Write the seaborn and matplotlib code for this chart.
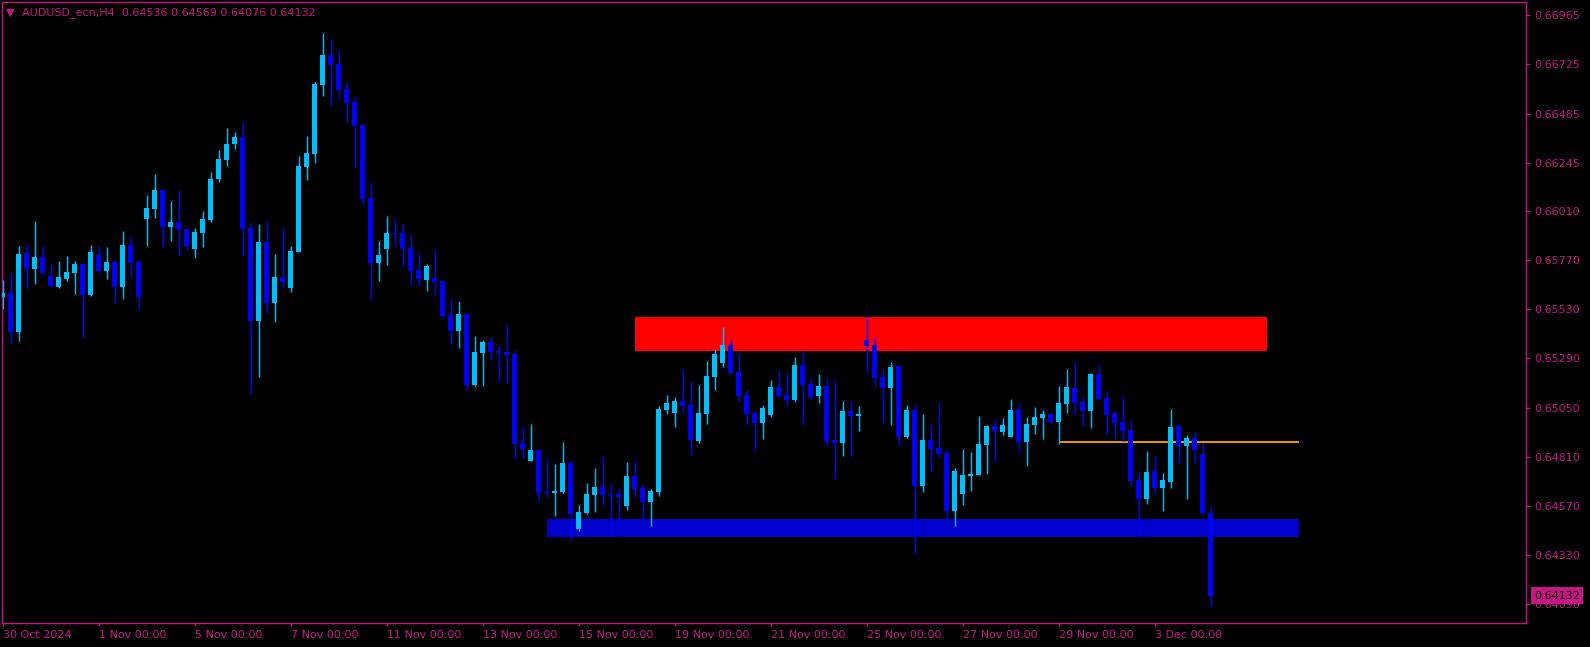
import matplotlib
matplotlib.use("Agg")
import matplotlib.pyplot as plt
import numpy as np
import seaborn as sns

# AUDUSD_ecn H4, 30 Oct 2024 -> 4 Dec 2024 (one value per bar)
opens = [
    0.65591, 0.65608, 0.65421, 0.65803, 0.65727, 0.65783, 0.65692, 0.65640, 0.65679, 0.65709,
    0.65751, 0.65600, 0.65795, 0.65717, 0.65761, 0.65639, 0.65844, 0.65761, 0.65971, 0.66019,
    0.66112, 0.65933, 0.65956, 0.65922, 0.65826, 0.65904, 0.65966, 0.66166, 0.66259, 0.66337,
    0.66371, 0.65927, 0.65474, 0.65858, 0.65562, 0.65688, 0.65635, 0.65811, 0.66226, 0.66290,
    0.66625, 0.66771, 0.66727, 0.66605, 0.66542, 0.66431, 0.66073, 0.65757, 0.65826, 0.65902,
    0.65902, 0.65829, 0.65722, 0.65674, 0.65683, 0.65668, 0.65504, 0.65426, 0.65509, 0.65160,
    0.65316, 0.65370, 0.65326, 0.65321, 0.65312, 0.64877, 0.64789, 0.64843, 0.64638, 0.64633,
    0.64638, 0.64779, 0.64457, 0.64535, 0.64623, 0.64662, 0.64628, 0.64628, 0.64571, 0.64716,
    0.64657, 0.64591, 0.64638, 0.65038, 0.65023, 0.65082, 0.65063, 0.64887, 0.65019, 0.65199,
    0.65268, 0.65355, 0.65224, 0.65111, 0.65023, 0.64975, 0.65014, 0.65150, 0.65111, 0.65087,
    0.65258, 0.65165, 0.65106, 0.65155, 0.64892, 0.64877, 0.65033, 0.65009, 0.65380, 0.65355,
    0.65199, 0.65146, 0.65253, 0.64906, 0.65038, 0.64667, 0.64892, 0.64853, 0.64828, 0.64545,
    0.64628, 0.64716, 0.64721, 0.64867, 0.64960, 0.64931, 0.64906, 0.65038, 0.64882, 0.64965,
    0.64999, 0.65019, 0.64980, 0.65067, 0.65146, 0.65077, 0.65033, 0.65214, 0.65097, 0.65023,
    0.64980, 0.64940, 0.64696, 0.64604, 0.64740, 0.64657, 0.64687, 0.64960, 0.64862, 0.64901,
    0.64823, 0.64536,
]
highs = [
    0.65673, 0.65705, 0.65839, 0.65849, 0.65961, 0.65842, 0.65751, 0.65766, 0.65790, 0.65766,
    0.65754, 0.65844, 0.65839, 0.65834, 0.65770, 0.65912, 0.65888, 0.65770, 0.66088, 0.66190,
    0.66120, 0.66059, 0.66112, 0.65927, 0.65927, 0.66010, 0.66200, 0.66308, 0.66415, 0.66395,
    0.66449, 0.65956, 0.65946, 0.65961, 0.65800, 0.65932, 0.65839, 0.66278, 0.66376, 0.66639,
    0.66879, 0.66849, 0.66801, 0.66639, 0.66571, 0.66436, 0.66151, 0.65863, 0.65985, 0.65971,
    0.65951, 0.65897, 0.65810, 0.65751, 0.65819, 0.65668, 0.65580, 0.65570, 0.65509, 0.65399,
    0.65380, 0.65394, 0.65355, 0.65458, 0.65331, 0.64955, 0.64970, 0.64843, 0.64799, 0.64775,
    0.64882, 0.64794, 0.64574, 0.64682, 0.64755, 0.64814, 0.64677, 0.64657, 0.64784, 0.64789,
    0.64677, 0.64652, 0.65058, 0.65111, 0.65102, 0.65238, 0.65180, 0.65160, 0.65277, 0.65336,
    0.65443, 0.65380, 0.65316, 0.65141, 0.65033, 0.65063, 0.65185, 0.65233, 0.65219, 0.65297,
    0.65321, 0.65199, 0.65214, 0.65194, 0.65185, 0.65082, 0.65082, 0.65058, 0.65497, 0.65394,
    0.65233, 0.65272, 0.65263, 0.65063, 0.65067, 0.65019, 0.64970, 0.65077, 0.64838, 0.64755,
    0.64848, 0.64833, 0.65009, 0.64965, 0.64994, 0.64999, 0.65092, 0.65067, 0.65004, 0.65053,
    0.65038, 0.65028, 0.65155, 0.65238, 0.65277, 0.65106, 0.65219, 0.65258, 0.65131, 0.65033,
    0.65106, 0.64989, 0.64731, 0.64838, 0.64814, 0.64731, 0.65043, 0.64970, 0.64916, 0.64936,
    0.64877, 0.64569,
]
lows = [
    0.65533, 0.65364, 0.65377, 0.65630, 0.65655, 0.65699, 0.65637, 0.65635, 0.65670, 0.65604,
    0.65391, 0.65595, 0.65707, 0.65678, 0.65556, 0.65580, 0.65683, 0.65531, 0.65839, 0.65975,
    0.65836, 0.65863, 0.65792, 0.65819, 0.65782, 0.65836, 0.65958, 0.66153, 0.66231, 0.66314,
    0.65792, 0.65118, 0.65201, 0.65509, 0.65469, 0.65635, 0.65616, 0.65811, 0.66163, 0.66246,
    0.66573, 0.66524, 0.66558, 0.66446, 0.66221, 0.66046, 0.65577, 0.65670, 0.65748, 0.65840,
    0.65738, 0.65650, 0.65650, 0.65621, 0.65601, 0.65489, 0.65362, 0.65343, 0.65137, 0.65155,
    0.65155, 0.65282, 0.65175, 0.65170, 0.64799, 0.64804, 0.64789, 0.64589, 0.64613, 0.64521,
    0.64633, 0.64403, 0.64447, 0.64530, 0.64540, 0.64569, 0.64428, 0.64501, 0.64550, 0.64613,
    0.64501, 0.64472, 0.64618, 0.65019, 0.64955, 0.65019, 0.64818, 0.64877, 0.64970, 0.65136,
    0.65248, 0.65214, 0.65077, 0.64965, 0.64838, 0.64897, 0.65004, 0.65102, 0.65058, 0.65077,
    0.64965, 0.65087, 0.65072, 0.64862, 0.64701, 0.64814, 0.64814, 0.64936, 0.65224, 0.65155,
    0.64975, 0.64965, 0.64867, 0.64901, 0.64335, 0.64638, 0.64735, 0.64809, 0.64501, 0.64472,
    0.64574, 0.64643, 0.64721, 0.64726, 0.64789, 0.64916, 0.64906, 0.64833, 0.64765, 0.64921,
    0.64897, 0.64970, 0.64872, 0.65023, 0.65014, 0.64960, 0.64950, 0.65092, 0.64916, 0.64897,
    0.64887, 0.64667, 0.64423, 0.64579, 0.64628, 0.64545, 0.64657, 0.64774, 0.64604, 0.64779,
    0.64526, 0.64076,
]
closes = [
    0.65608, 0.65421, 0.65800, 0.65727, 0.65785, 0.65709, 0.65645, 0.65687, 0.65712, 0.65751,
    0.65600, 0.65809, 0.65717, 0.65761, 0.65639, 0.65844, 0.65756, 0.65590, 0.66024, 0.66112,
    0.65933, 0.65956, 0.65917, 0.65839, 0.65907, 0.65971, 0.66166, 0.66264, 0.66337, 0.66371,
    0.65923, 0.65474, 0.65858, 0.65562, 0.65688, 0.65663, 0.65814, 0.66229, 0.66293, 0.66630,
    0.66771, 0.66724, 0.66602, 0.66539, 0.66426, 0.66070, 0.65757, 0.65795, 0.65902, 0.65897,
    0.65826, 0.65718, 0.65679, 0.65741, 0.65665, 0.65499, 0.65426, 0.65509, 0.65162, 0.65321,
    0.65370, 0.65321, 0.65316, 0.65307, 0.64872, 0.64848, 0.64843, 0.64633, 0.64633, 0.64643,
    0.64779, 0.64530, 0.64540, 0.64628, 0.64662, 0.64623, 0.64623, 0.64613, 0.64716, 0.64652,
    0.64591, 0.64643, 0.65043, 0.65072, 0.65082, 0.65058, 0.64892, 0.65023, 0.65204, 0.65312,
    0.65355, 0.65219, 0.65106, 0.65019, 0.64975, 0.65048, 0.65150, 0.65106, 0.65087, 0.65258,
    0.65160, 0.65102, 0.65155, 0.64887, 0.64877, 0.65033, 0.65009, 0.65019, 0.65351, 0.65194,
    0.65146, 0.65248, 0.64906, 0.65038, 0.64667, 0.64892, 0.64848, 0.64823, 0.64545, 0.64740,
    0.64721, 0.64726, 0.64872, 0.64960, 0.64936, 0.64965, 0.65038, 0.64882, 0.64970, 0.65004,
    0.65019, 0.64980, 0.65072, 0.65150, 0.65072, 0.65033, 0.65214, 0.65092, 0.65014, 0.64975,
    0.64936, 0.64692, 0.64604, 0.64735, 0.64657, 0.64696, 0.64955, 0.64862, 0.64901, 0.64843,
    0.64535, 0.64132,
]

# time axis labels (every 12 bars)
date_ticks = [0, 12, 24, 36, 48, 60, 72, 84, 96, 108, 120, 132, 144]
date_labels = ["30 Oct 2024", "1 Nov 00:00", "5 Nov 00:00", "7 Nov 00:00",
               "11 Nov 00:00", "13 Nov 00:00", "15 Nov 00:00", "19 Nov 00:00",
               "21 Nov 00:00", "25 Nov 00:00", "27 Nov 00:00", "29 Nov 00:00",
               "3 Dec 00:00"]
price_ticks = [0.66965, 0.66725, 0.66485, 0.66245, 0.66010, 0.65770, 0.65530,
               0.65290, 0.65050, 0.64810, 0.64570, 0.64330, 0.64090]

# zones drawn on the chart: (first bar, last bar, low, high)
supply_zone = (79, 158, 0.65326, 0.65492)
demand_zone = (68, 162, 0.64418, 0.64506)
level_line = (132, 162, 0.64883)
last_price = 0.64132

FG = "#C71585"
BULL = "#00BFFF"
BEAR = "#0000FF"

sns.set_theme(style="dark", rc={"axes.facecolor": "black",
                                "figure.facecolor": "black"})
plt.rcParams["font.family"] = ["DejaVu Sans"]

W, H = 1590, 647
fig = plt.figure(figsize=(W / 100, H / 100), dpi=100, facecolor="black")
ax = fig.add_axes([2 / W, 1 - 623 / H, 1524 / W, 621 / H])
ax.set_facecolor("black")
ax.grid(False)

o = np.array(opens)
h = np.array(highs)
l = np.array(lows)
c = np.array(closes)
x = np.arange(len(o))
colors = np.where(c > o, BULL, BEAR)

# zones
x0, x1, lo, hi = supply_zone
ax.fill_between([x0, x1], lo, hi, color="#FF0000", lw=0, zorder=1)
x0, x1, lo, hi = demand_zone
ax.fill_between([x0, x1], lo, hi, color="#0000CD", lw=0, zorder=1)
ax.hlines(level_line[2], level_line[0], level_line[1], color="#FFA500",
          lw=1.3, zorder=1.5)

# candles
ax.vlines(x, l, h, colors=colors, lw=1.0, zorder=2)
body_lo = np.minimum(o, c)
body_h = np.maximum(np.abs(c - o), 0.00004)
ax.bar(x, body_h, bottom=body_lo, width=0.625, color=colors, lw=0, zorder=3)

ax.set_xlim(-0.125, 190.4)
ax.set_ylim(0.63998, 0.67030)

for s in ax.spines.values():
    s.set_color(FG)
    s.set_linewidth(1)

ax.yaxis.tick_right()
ax.set_yticks(price_ticks)
ax.set_yticklabels([f"{p:.5f}" for p in price_ticks])
ax.set_xticks(date_ticks)
ax.set_xticklabels(date_labels)
ax.tick_params(axis="y", colors=FG, labelcolor=FG, length=3, width=1,
               direction="out", pad=3, labelsize=8, right=True, left=False)
ax.tick_params(axis="x", colors=FG, labelcolor=FG, length=2.5, width=1,
               direction="out", pad=2.5, labelsize=8, bottom=True)
for lab in ax.get_xticklabels():
    lab.set_horizontalalignment("left")

# current price tag
ax.text(1.0053, last_price, f"{last_price:.5f}", transform=ax.get_yaxis_transform(),
        ha="left", va="center", fontsize=8, color="black", zorder=10,
        bbox=dict(boxstyle="square,pad=0.3", fc=FG, ec="none"), clip_on=False)

# header
fig.text(6 / W, 1 - 12.5 / H, "▼", color=FG, fontsize=8, ha="left", va="center")
fig.text(22 / W, 1 - 12.5 / H, "AUDUSD_ecn,H4  0.64536 0.64569 0.64076 0.64132",
         color=FG, fontsize=8, ha="left", va="center")

fig.savefig("out.png", dpi=100, facecolor="black")
plt.close(fig)
